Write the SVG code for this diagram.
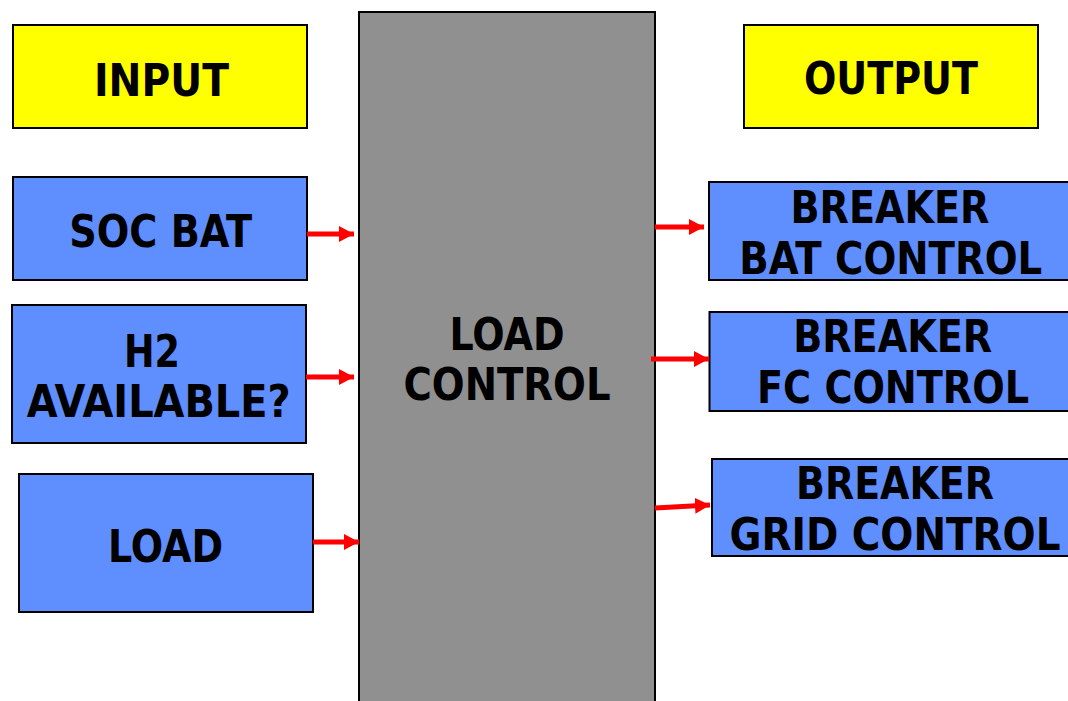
<svg xmlns="http://www.w3.org/2000/svg" width="1068" height="701" viewBox="0 0 1068 701">
<style>
.box{stroke:#000;stroke-width:2}
.hdr{fill:#ffff00}
.blue{fill:#5f8eff}
.gray{fill:#909090}
.t{font-family:"DejaVu Sans Condensed","DejaVu Sans","Liberation Sans",sans-serif;font-stretch:condensed;font-weight:bold;font-size:44px;fill:#000;text-anchor:middle}
.con{stroke:#ff0000;stroke-width:5;fill:none}
</style>
<defs>
<marker id="ah" markerUnits="userSpaceOnUse" markerWidth="15" markerHeight="16" refX="15" refY="8" orient="auto" viewBox="0 0 15 16">
<path d="M0,0 L15,8 L0,16 z" fill="#ff0000"/>
</marker>
</defs>
<rect width="1068" height="701" fill="#fff"/>
<g id="load-control">
<rect class="box gray" x="359" y="12" width="296" height="700"/>
<text class="t" x="507" y="350" textLength="115" lengthAdjust="spacingAndGlyphs">LOAD</text>
<text class="t" x="507" y="400" textLength="207" lengthAdjust="spacingAndGlyphs">CONTROL</text>
</g>
<g id="input">
<rect class="box hdr" x="13" y="25" width="294" height="103"/>
<text class="t" x="161.5" y="96" textLength="135" lengthAdjust="spacingAndGlyphs">INPUT</text>
</g>
<g id="soc-bat">
<rect class="box blue" x="13" y="177" width="294" height="103"/>
<text class="t" x="160.7" y="247" textLength="183" lengthAdjust="spacingAndGlyphs">SOC BAT</text>
</g>
<g id="h2">
<rect class="box blue" x="12" y="305" width="294" height="138"/>
<text class="t" x="152" y="367" textLength="56" lengthAdjust="spacingAndGlyphs">H2</text>
<text class="t" x="158.7" y="417" textLength="264" lengthAdjust="spacingAndGlyphs">AVAILABLE?</text>
</g>
<g id="load">
<rect class="box blue" x="19" y="474" width="294" height="138"/>
<text class="t" x="165.5" y="562" textLength="115" lengthAdjust="spacingAndGlyphs">LOAD</text>
</g>
<g id="output">
<rect class="box hdr" x="744" y="25" width="294" height="103"/>
<text class="t" x="891" y="94" textLength="174" lengthAdjust="spacingAndGlyphs">OUTPUT</text>
</g>
<g id="breaker-bat">
<rect class="box blue" x="709" y="182" width="370" height="98"/>
<text class="t" x="890" y="223" textLength="199" lengthAdjust="spacingAndGlyphs">BREAKER</text>
<text class="t" x="890.7" y="274" textLength="303" lengthAdjust="spacingAndGlyphs">BAT CONTROL</text>
</g>
<g id="breaker-fc">
<rect class="box blue" x="709.5" y="312" width="370" height="99"/>
<text class="t" x="892.7" y="352" textLength="199" lengthAdjust="spacingAndGlyphs">BREAKER</text>
<text class="t" x="893" y="403" textLength="272" lengthAdjust="spacingAndGlyphs">FC CONTROL</text>
</g>
<g id="breaker-grid">
<rect class="box blue" x="712" y="459" width="370" height="97"/>
<text class="t" x="895" y="499" textLength="198" lengthAdjust="spacingAndGlyphs">BREAKER</text>
<text class="t" x="895" y="550" textLength="331" lengthAdjust="spacingAndGlyphs">GRID CONTROL</text>
</g>
<g id="connectors">
<line class="con" x1="307" y1="234" x2="354" y2="234" marker-end="url(#ah)"/>
<line class="con" x1="306" y1="377" x2="354" y2="377" marker-end="url(#ah)"/>
<line class="con" x1="313" y1="542" x2="359" y2="542" marker-end="url(#ah)"/>
<line class="con" x1="655" y1="227" x2="704" y2="227" marker-end="url(#ah)"/>
<line class="con" x1="651" y1="359" x2="709" y2="359" marker-end="url(#ah)"/>
<line class="con" x1="655" y1="508" x2="710" y2="505" marker-end="url(#ah)"/>
</g>
</svg>
